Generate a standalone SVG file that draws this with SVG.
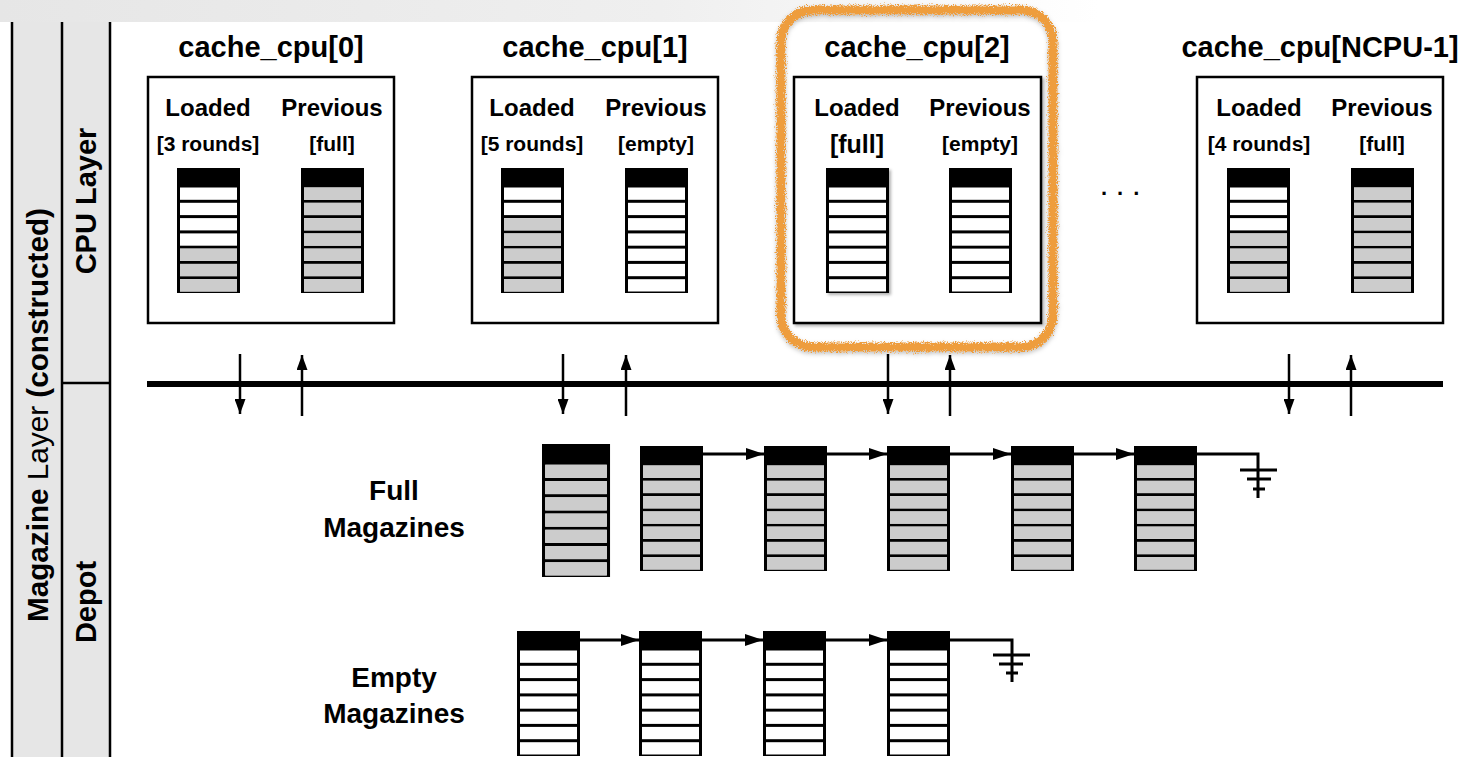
<svg xmlns="http://www.w3.org/2000/svg" xmlns:xlink="http://www.w3.org/1999/xlink" width="1466" height="757" viewBox="0 0 1466 757">
  <style>
    text { font-family: "Liberation Sans", Arial, Helvetica, sans-serif; font-weight: bold; fill: #000; }
    .title { font-size: 29px; text-anchor: middle; }
    .slot { font-size: 24px; text-anchor: middle; }
    .state { font-size: 21px; text-anchor: middle; }
    .side { font-size: 29px; text-anchor: middle; }
    .label { font-size: 28px; text-anchor: middle; }
    .box { fill: #fff; stroke: #000; stroke-width: 2.5; }
    .w { fill: #fff; }
    .g { fill: #cccccc; }
    .panel { fill: #e6e6e6; }
    .rule { stroke: #000; stroke-width: 2.5; fill: none; }
    .bus { stroke: #000; stroke-width: 6; }
    .xfer { stroke: #000; stroke-width: 2.5; fill: none; }
    .link { stroke: #000; stroke-width: 3; fill: none; }
  </style>
  <defs>
    <linearGradient id="topband" x1="0" y1="0" x2="1" y2="0">
      <stop offset="0" stop-color="#e6e6e6"/>
      <stop offset="0.45" stop-color="#efefef"/>
      <stop offset="0.75" stop-color="#ffffff"/>
    </linearGradient>
    <marker id="ah" markerUnits="userSpaceOnUse" markerWidth="15" markerHeight="11" refX="15" refY="5.5" orient="auto">
      <path d="M0,0 L15,5.5 L0,11 z" fill="#000"/>
    </marker>
    <marker id="ah2" markerUnits="userSpaceOnUse" markerWidth="18" markerHeight="12" refX="18" refY="6" orient="auto">
      <path d="M0,0 L18,6 L0,12 z" fill="#000"/>
    </marker>
    <!-- hand-drawn brush look for the highlight ring -->
    <filter id="rough" x="-5%" y="-5%" width="110%" height="110%">
      <feTurbulence type="fractalNoise" baseFrequency="0.9" numOctaves="3" seed="4" result="n"/>
      <feDisplacementMap in="SourceGraphic" in2="n" scale="8" xChannelSelector="R" yChannelSelector="G" result="d"/>
      <feGaussianBlur in="d" stdDeviation="0.4" result="b"/>
      <feDropShadow in="b" dx="0" dy="2" stdDeviation="2" flood-color="#000" flood-opacity="0.25"/>
    </filter>
    <filter id="shadow" x="-10%" y="-10%" width="125%" height="125%">
      <feDropShadow dx="2" dy="2" stdDeviation="1.5" flood-color="#000" flood-opacity="0.3"/>
    </filter>
    <!-- magazine: black frame, header, seven round slots -->
    <g id="mag0">
      <rect width="63" height="125" fill="#000"/>
      <rect class="w" x="3" y="19.5" width="57" height="12.3"/>
      <rect class="w" x="3" y="34.8" width="57" height="12.3"/>
      <rect class="w" x="3" y="50.1" width="57" height="12.3"/>
      <rect class="w" x="3" y="65.4" width="57" height="12.3"/>
      <rect class="w" x="3" y="80.6" width="57" height="12.3"/>
      <rect class="w" x="3" y="95.9" width="57" height="12.3"/>
      <rect class="w" x="3" y="111.2" width="57" height="12.3"/>
    </g>
    <g id="mag3">
      <use href="#mag0"/>
      <rect class="g" x="3" y="80.6" width="57" height="12.3"/>
      <rect class="g" x="3" y="95.9" width="57" height="12.3"/>
      <rect class="g" x="3" y="111.2" width="57" height="12.3"/>
    </g>
    <g id="mag4">
      <use href="#mag3"/>
      <rect class="g" x="3" y="65.4" width="57" height="12.3"/>
    </g>
    <g id="mag5">
      <use href="#mag4"/>
      <rect class="g" x="3" y="50.1" width="57" height="12.3"/>
    </g>
    <g id="mag7">
      <use href="#mag5"/>
      <rect class="g" x="3" y="19.5" width="57" height="12.3"/>
      <rect class="g" x="3" y="34.8" width="57" height="12.3"/>
    </g>
  </defs>

  <rect width="1466" height="757" fill="#fff"/>
  <rect width="1466" height="22" fill="url(#topband)"/>

  <!-- side bands -->
  <g id="side-bands">
    <rect class="panel" x="12" y="22" width="98" height="740"/>
    <line class="rule" x1="12" y1="22" x2="12" y2="757"/>
    <line class="rule" x1="62" y1="22" x2="62" y2="757"/>
    <line class="rule" x1="110" y1="22" x2="110" y2="757"/>
    <line class="rule" x1="62" y1="383" x2="110" y2="383"/>
    <text class="side" transform="translate(48,415) rotate(-90)" textLength="414" lengthAdjust="spacingAndGlyphs">Magazine <tspan font-weight="normal">Layer</tspan> (constructed)</text>
    <text class="side" transform="translate(96,201) rotate(-90)">CPU Layer</text>
    <text class="side" transform="translate(96,602) rotate(-90)">Depot</text>
  </g>

  <!-- per-CPU caches -->
  <g id="cache-cpu-0">
    <text class="title" x="271" y="57">cache_cpu[0]</text>
    <rect class="box" x="148" y="77" width="246" height="246"/>
    <text class="slot" x="208" y="116">Loaded</text>
    <text class="slot" x="332" y="116">Previous</text>
    <text class="state" x="208" y="151">[3 rounds]</text>
    <text class="state" x="332" y="151">[full]</text>
    <use href="#mag3" x="177" y="168"/>
    <use href="#mag7" x="301" y="168"/>
  </g>

  <g id="cache-cpu-1">
    <text class="title" x="595" y="57">cache_cpu[1]</text>
    <rect class="box" x="472" y="77" width="246" height="246"/>
    <text class="slot" x="532" y="116">Loaded</text>
    <text class="slot" x="656" y="116">Previous</text>
    <text class="state" x="532" y="151">[5 rounds]</text>
    <text class="state" x="656" y="151">[empty]</text>
    <use href="#mag5" x="501" y="168"/>
    <use href="#mag0" x="625" y="168"/>
  </g>

  <g id="cache-cpu-2">
    <rect x="781" y="10" width="272" height="337" rx="32" fill="none" stroke="#ee9d3c" stroke-width="9" filter="url(#rough)"/>
    <text class="title" x="917" y="57">cache_cpu[2]</text>
    <rect class="box" x="794" y="77" width="247" height="246" filter="url(#shadow)"/>
    <text class="slot" x="857" y="116">Loaded</text>
    <text class="slot" x="980" y="116">Previous</text>
    <text class="state" x="857" y="153" style="font-size:25px">[full]</text>
    <text class="state" x="980" y="151">[empty]</text>
    <use href="#mag0" x="826" y="168" filter="url(#shadow)"/>
    <use href="#mag0" x="949" y="168"/>
  </g>

  <text id="more-cpus" x="1101" y="195" style="font-size:22px" letter-spacing="10">...</text>

  <g id="cache-cpu-ncpu-1">
    <text class="title" x="1320" y="57">cache_cpu[NCPU-1]</text>
    <rect class="box" x="1197" y="77" width="246" height="246"/>
    <text class="slot" x="1259" y="116">Loaded</text>
    <text class="slot" x="1382" y="116">Previous</text>
    <text class="state" x="1259" y="151">[4 rounds]</text>
    <text class="state" x="1382" y="151">[full]</text>
    <use href="#mag4" x="1227" y="168"/>
    <use href="#mag7" x="1351" y="168"/>
  </g>

  <!-- depot lists -->
  <g id="full-magazines">
    <text class="label" x="394" y="500">Full</text>
    <text class="label" x="394" y="537">Magazines</text>
    <use href="#mag7" transform="translate(542,444) scale(1.08,1.064)"/>
    <use href="#mag7" x="640" y="446"/>
    <use href="#mag7" x="764" y="446"/>
    <use href="#mag7" x="887" y="446"/>
    <use href="#mag7" x="1011" y="446"/>
    <use href="#mag7" x="1134" y="446"/>
  </g>

  <g id="empty-magazines">
    <text class="label" x="394" y="687">Empty</text>
    <text class="label" x="394" y="723">Magazines</text>
    <use href="#mag0" x="517" y="631"/>
    <use href="#mag0" x="639" y="631"/>
    <use href="#mag0" x="763" y="631"/>
    <use href="#mag0" x="887" y="631"/>
  </g>

  <g id="connectors">
    <line class="bus" x1="147" y1="384" x2="1443" y2="384"/>
    <!-- loaded/previous exchange with the depot -->
    <line class="xfer" x1="240" y1="354" x2="240" y2="414" marker-end="url(#ah)"/>
    <line class="xfer" x1="302" y1="416" x2="302" y2="355" marker-end="url(#ah)"/>
    <line class="xfer" x1="563" y1="354" x2="563" y2="414" marker-end="url(#ah)"/>
    <line class="xfer" x1="626" y1="416" x2="626" y2="355" marker-end="url(#ah)"/>
    <line class="xfer" x1="888" y1="354" x2="888" y2="414" marker-end="url(#ah)"/>
    <line class="xfer" x1="950" y1="416" x2="950" y2="355" marker-end="url(#ah)"/>
    <line class="xfer" x1="1289" y1="354" x2="1289" y2="414" marker-end="url(#ah)"/>
    <line class="xfer" x1="1351" y1="416" x2="1351" y2="355" marker-end="url(#ah)"/>
    <!-- full list -->
    <line class="link" x1="703" y1="454" x2="764" y2="454" marker-end="url(#ah2)"/>
    <line class="link" x1="827" y1="454" x2="887" y2="454" marker-end="url(#ah2)"/>
    <line class="link" x1="950" y1="454" x2="1011" y2="454" marker-end="url(#ah2)"/>
    <line class="link" x1="1074" y1="454" x2="1134" y2="454" marker-end="url(#ah2)"/>
    <path class="link" d="M1197,454 H1258 V498 M1240,470 H1277 M1247,479 H1271 M1253,489 H1265"/>
    <!-- empty list -->
    <line class="link" x1="580" y1="640" x2="639" y2="640" marker-end="url(#ah2)"/>
    <line class="link" x1="702" y1="640" x2="763" y2="640" marker-end="url(#ah2)"/>
    <line class="link" x1="826" y1="640" x2="887" y2="640" marker-end="url(#ah2)"/>
    <path class="link" d="M950,640 H1012 V682 M993,655 H1030 M999,664 H1023 M1006,673 H1018"/>
  </g>
</svg>
